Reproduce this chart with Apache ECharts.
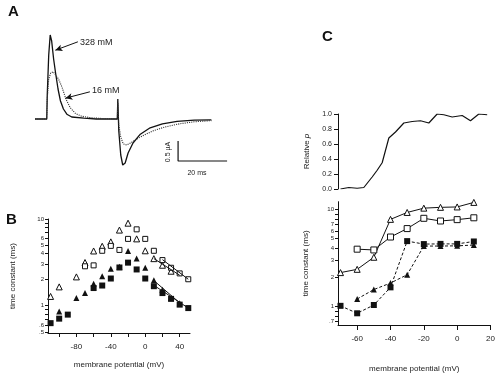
<!DOCTYPE html>
<html>
<head>
<meta charset="utf-8">
<script src="https://cdn.jsdelivr.net/npm/echarts@6.0.0/dist/echarts.min.js"></script>
<style>
  html, body { margin: 0; padding: 0; background: #fff; }
  #chart { width: 500px; height: 376px; }
</style>
</head>
<body>
<div id="chart"></div>
<script>
// ---- panel A: current traces (time in ms, current in uA)
const t328 = [0, 4.8, 5.0, 5.6, 6.2, 6.8, 7.6, 8.4, 9.4, 10.4, 11.6, 13, 15, 20, 25, 30, 33.6, 33.8, 34.2, 35, 35.8, 36.8, 38, 40, 43, 47, 52, 58, 65, 72];
const i328 = [0, 0, 0.6, 1.6, 2.1, 1.95, 1.5, 1.15, 0.75, 0.45, 0.25, 0.12, 0.05, 0.02, 0, 0, 0, 0.5, -0.3, -0.9, -1.15, -1.1, -0.85, -0.6, -0.38, -0.22, -0.12, -0.06, -0.03, -0.02];
const t16 = [0, 4.8, 5.0, 5.6, 6.4, 7.4, 8.4, 9.6, 11, 12.6, 14.4, 16.5, 19, 23, 28, 33.6, 33.8, 34.2, 35, 36, 37.4, 39, 41, 44, 48, 53, 59, 65, 72];
const i16 = [0, 0, 0.5, 1.0, 1.15, 1.18, 1.1, 1.0, 0.8, 0.5, 0.28, 0.14, 0.07, 0.03, 0.01, 0, 0.4, -0.15, -0.45, -0.62, -0.65, -0.6, -0.52, -0.42, -0.3, -0.2, -0.12, -0.07, -0.04];
const scaleBarT = [58.4, 58.4, 78.4];
const scaleBarI = [-0.55, -1.05, -1.05];

// ---- panel B: time constants vs membrane potential
const vB = [-110, -100, -90, -80, -70, -60, -50, -40, -30, -20, -10, 0, 10, 20, 30, 40, 50];
const bOpenTri = [1.28, 1.65, null, 2.15, 3.15, 4.28, 4.85, 5.45, 7.45, 8.95, 5.9, 4.3, 3.49, 2.93, 2.5, null, null];
const bOpenSq = [null, null, null, null, 2.85, 2.92, 4.3, 4.9, 4.4, 5.9, 7.6, 5.9, 4.3, 3.36, 2.74, 2.36, 2.02];
const bFillTri = [null, 0.86, null, 1.23, 1.4, 1.79, 2.19, 2.67, 2.82, 4.28, 3.5, 2.74, 1.97, 1.53, 1.23, 1.07, null];
const bFillSq = [0.63, 0.71, 0.79, null, null, 1.6, 1.71, 2.06, 2.76, 3.14, 2.62, 2.06, 1.68, 1.4, 1.2, 1.03, 0.94];
const fitOpenTriX = [10, 40], fitOpenTriY = [3.5, 2.25];
const fitOpenSqX = [20, 50], fitOpenSqY = [3.4, 2.02];
const fitFillTriX = [10, 40], fitFillTriY = [1.95, 1.08];
const fitFillSqX = [10, 50], fitFillSqY = [1.72, 0.94];
const bTicksX = [-100, -80, -60, -40, -20, 0, 20, 40];
const bLabelsX = [-80, -40, 0, 40];
const bTicksY = [0.5, 0.6, 0.7, 0.8, 0.9, 1, 2, 3, 4, 5, 6, 7, 8, 9, 10];
const bLabelsY = [0.5, 0.6, 1, 2, 3, 4, 5, 6, 10];

// ---- panel C: relative p and time constants
const vP = [-70, -65, -60, -56, -51, -48, -45, -41, -37, -32, -27, -22, -17, -12, -8, -3, 3, 8, 13, 18];
const relP = [0.0, 0.02, 0.01, 0.02, 0.16, 0.25, 0.35, 0.68, 0.76, 0.88, 0.9, 0.91, 0.88, 1.0, 0.99, 0.96, 0.98, 0.91, 1.0, 0.99];
const vC = [-70, -60, -50, -40, -30, -20, -10, 0, 10];
const cOpenTri = [2.24, 2.42, 3.22, 7.9, 9.3, 10.3, 10.5, 10.6, 11.8];
const cOpenSq = [null, 3.9, 3.83, 5.2, 6.35, 8.1, 7.6, 7.85, 8.2];
const cFillTri = [null, 1.2, 1.5, 1.75, 2.13, 4.2, 4.2, 4.22, 4.3];
const cFillSq = [1.02, 0.855, 1.04, 1.58, 4.72, 4.4, 4.42, 4.42, 4.68];
const cTicksX = [-60, -40, -20, 0, 20];
const cTicksY = [0.7, 0.8, 0.9, 1, 2, 3, 4, 5, 6, 7, 8, 9, 10];
const cLabelsY = [0.7, 1, 2, 3, 4, 5, 6, 7, 10];

const zip = (xs, ys) => xs.map((x, k) => [x, ys[k]]);
const FONT = '"Liberation Sans", Arial, sans-serif';
const INK = '#111';

function logFmt(v) {
  if (v < 1) return '.' + Math.round(v * 10);
  return String(Math.round(v));
}

const chart = echarts.init(document.getElementById('chart'));

const axisBase = {
  axisLine: { show: true, onZero: false, lineStyle: { color: INK, width: 1 } },
  splitLine: { show: false },
  axisLabel: { color: '#222', fontSize: 7, fontFamily: FONT },
  nameTextStyle: { color: '#222', fontSize: 8, fontFamily: FONT }
};

function scatter(x, y, xi, symbol, filled, size) {
  return {
    type: 'scatter', xAxisIndex: xi, yAxisIndex: xi,
    data: zip(x, y).filter(d => d[1] != null),
    symbol: symbol, symbolSize: size,
    itemStyle: { color: filled ? INK : '#fff', borderColor: INK, borderWidth: filled ? 0 : 1, opacity: 1 },
    silent: true
  };
}
function plainLine(x, y, xi) {
  return {
    type: 'line', xAxisIndex: xi, yAxisIndex: xi, data: zip(x, y),
    symbol: 'none', silent: true,
    lineStyle: { color: INK, width: 1 }
  };
}
function markedLine(x, y, symbol, filled, dashed) {
  return {
    type: 'line', xAxisIndex: 3, yAxisIndex: 3,
    data: zip(x, y).filter(d => d[1] != null),
    symbol: symbol, symbolSize: 6, showAllSymbol: true,
    silent: true,
    lineStyle: { color: INK, width: 1, type: dashed ? [3, 2] : 'solid' },
    itemStyle: { color: filled ? INK : '#fff', borderColor: INK, borderWidth: filled ? 0 : 1, opacity: 1 }
  };
}

const option = {
  animation: false,
  backgroundColor: '#fff',
  textStyle: { fontFamily: FONT },
  grid: [
    { left: 35, top: 25, width: 196, height: 154 },
    { left: 48, top: 219, width: 142, height: 114 },
    { left: 338, top: 114, width: 152.5, height: 75 },
    { left: 338, top: 201.7, width: 152.5, height: 123.3 }
  ],
  xAxis: [
    { type: 'value', gridIndex: 0, min: 0, max: 80, show: false },
    Object.assign({}, axisBase, {
      type: 'value', gridIndex: 1, min: -113, max: 52,
      name: 'membrane potential (mV)', nameLocation: 'middle', nameGap: 28,
      axisTick: { show: true, customValues: bTicksX, length: 4, lineStyle: { color: INK } },
      axisLabel: Object.assign({}, axisBase.axisLabel, { fontSize: 8, customValues: bLabelsX, margin: 10 })
    }),
    { type: 'value', gridIndex: 2, min: -71.5, max: 20, show: false },
    Object.assign({}, axisBase, {
      type: 'value', gridIndex: 3, min: -71.5, max: 20,
      name: 'membrane potential (mV)', nameLocation: 'middle', nameGap: 40,
      axisTick: { show: true, customValues: cTicksX, length: 5, lineStyle: { color: INK } },
      axisLabel: Object.assign({}, axisBase.axisLabel, { fontSize: 8, customValues: cTicksX, margin: 10 })
    })
  ],
  yAxis: [
    { type: 'value', gridIndex: 0, min: -1.5, max: 2.35, show: false },
    Object.assign({}, axisBase, {
      type: 'log', logBase: 10, gridIndex: 1, min: 0.485, max: 10,
      name: 'time constant (ms)', nameLocation: 'middle', nameGap: 31, nameRotate: 90,
      axisTick: { show: true, customValues: bTicksY, length: 3, lineStyle: { color: INK } },
      axisLabel: Object.assign({}, axisBase.axisLabel, {
        fontSize: 6, customValues: bLabelsY, margin: 4, formatter: logFmt
      })
    }),
    Object.assign({}, axisBase, {
      type: 'value', gridIndex: 2, min: 0, max: 1, interval: 0.2,
      name: 'Relative {i|p}', nameLocation: 'middle', nameGap: 27, nameRotate: 90,
      nameTextStyle: Object.assign({}, axisBase.nameTextStyle, {
        rich: { i: { fontStyle: 'italic', fontSize: 8, fontFamily: FONT, color: '#222' } }
      }),
      axisTick: { show: true, length: 4, lineStyle: { color: INK } },
      axisLabel: Object.assign({}, axisBase.axisLabel, { fontSize: 7, margin: 6, formatter: v => v.toFixed(1) })
    }),
    Object.assign({}, axisBase, {
      type: 'log', logBase: 10, gridIndex: 3, min: 0.648, max: 12,
      name: 'time constant (ms)', nameLocation: 'middle', nameGap: 28, nameRotate: 90,
      axisTick: { show: true, customValues: cTicksY, length: 3, lineStyle: { color: INK } },
      axisLabel: Object.assign({}, axisBase.axisLabel, {
        fontSize: 6, customValues: cLabelsY, margin: 4, formatter: logFmt
      })
    })
  ],
  series: [
    // A
    {
      type: 'line', xAxisIndex: 0, yAxisIndex: 0, data: zip(t328, i328),
      symbol: 'none', silent: true, lineStyle: { color: INK, width: 1.3 },
      markLine: {
        silent: true, symbol: ['none', 'arrow'], symbolSize: [5, 7],
        label: { show: false },
        lineStyle: { color: INK, width: 1, type: 'solid' },
        data: [
          [{ coord: [17.5, 1.93] }, { coord: [8.3, 1.72] }],
          [{ coord: [22.4, 0.68] }, { coord: [12.4, 0.52] }]
        ]
      }
    },
    {
      type: 'line', xAxisIndex: 0, yAxisIndex: 0, data: zip(t16, i16),
      symbol: 'none', silent: true, lineStyle: { color: '#333', width: 1.1, type: 'dotted' }
    },
    {
      type: 'line', xAxisIndex: 0, yAxisIndex: 0, data: zip(scaleBarT, scaleBarI),
      symbol: 'none', silent: true, lineStyle: { color: INK, width: 1.2 }
    },
    // B
    plainLine(fitOpenTriX, fitOpenTriY, 1),
    plainLine(fitOpenSqX, fitOpenSqY, 1),
    plainLine(fitFillTriX, fitFillTriY, 1),
    plainLine(fitFillSqX, fitFillSqY, 1),
    scatter(vB, bOpenTri, 1, 'triangle', false, 6),
    scatter(vB, bOpenSq, 1, 'rect', false, 5),
    scatter(vB, bFillTri, 1, 'triangle', true, 6),
    scatter(vB, bFillSq, 1, 'rect', true, 6),
    // C top
    {
      type: 'line', xAxisIndex: 2, yAxisIndex: 2, data: zip(vP, relP),
      symbol: 'none', silent: true, lineStyle: { color: INK, width: 1.2 }
    },
    // C bottom
    markedLine(vC, cOpenTri, 'triangle', false, false),
    markedLine(vC, cOpenSq, 'rect', false, false),
    markedLine(vC, cFillTri, 'triangle', true, true),
    markedLine(vC, cFillSq, 'rect', true, true)
  ],
  graphic: [
    { type: 'text', left: 8, top: 4, style: { text: 'A', font: 'bold 15px ' + FONT, fill: INK } },
    { type: 'text', left: 6, top: 212, style: { text: 'B', font: 'bold 15px ' + FONT, fill: INK } },
    { type: 'text', left: 322, top: 29, style: { text: 'C', font: 'bold 15px ' + FONT, fill: INK } },
    { type: 'text', left: 80, top: 38, style: { text: '328 mM', font: '9px ' + FONT, fill: '#222' } },
    { type: 'text', left: 92, top: 86, style: { text: '16 mM', font: '9px ' + FONT, fill: '#222' } },
    { type: 'text', x: 168, y: 152, rotation: Math.PI / 2,
      style: { text: '0.5 µA', font: '7px ' + FONT, fill: '#222', align: 'center', verticalAlign: 'middle' } },
    { type: 'text', x: 197, y: 173,
      style: { text: '20 ms', font: '7px ' + FONT, fill: '#222', align: 'center', verticalAlign: 'middle' } }
  ]
};

chart.setOption(option);
</script>
</body>
</html>
